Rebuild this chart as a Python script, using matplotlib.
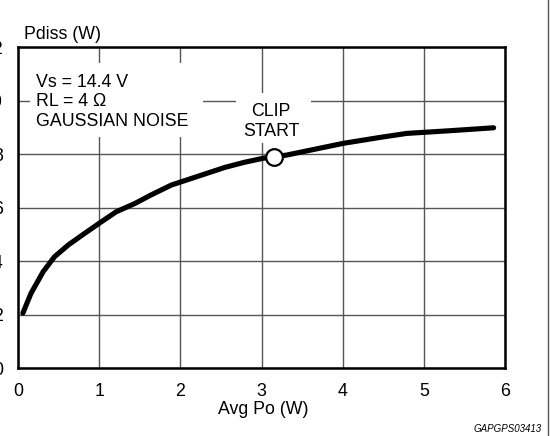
import matplotlib
matplotlib.use("Agg")
import matplotlib.pyplot as plt
from matplotlib.patches import Rectangle
from matplotlib.lines import Line2D

plt.rcParams['font.family'] = ['Liberation Sans', 'DejaVu Sans']

# Data
avg_po = [0.06, 0.16, 0.31, 0.45, 0.62, 0.82, 1.01, 1.21, 1.44, 1.64, 1.89, 2.01,
          2.26, 2.55, 2.79, 3.02, 3.31, 4.01, 4.46, 4.79, 5.32, 5.86]
pdiss = [2.05, 2.79, 3.6, 4.16, 4.6, 5.03, 5.43, 5.84, 6.15, 6.47, 6.84, 6.96,
         7.21, 7.5, 7.69, 7.84, 7.96, 8.4, 8.62, 8.77, 8.87, 8.98]
clip_x = [3.15]
clip_y = [7.87]
x_ticks = [0, 1, 2, 3, 4, 5, 6]
y_ticks = [0, 2, 4, 6, 8, 10, 12]

FS = 12.8
W, H = 550, 436
fig = plt.figure(figsize=(W / 100, H / 100), dpi=100)
L, R, T, B = 18, 505, 47, 368
ax = fig.add_axes([L / W, 1 - B / H, (R - L) / W, (B - T) / H])
ax.set_xlim(0, 6)
ax.set_ylim(0, 12)
ax.set_xticks(x_ticks)
ax.set_yticks(y_ticks)
ax.set_xticklabels([str(v) for v in x_ticks])
ax.set_yticklabels([str(v) for v in y_ticks])
ax.tick_params(axis='both', length=0, labelsize=FS)
ax.tick_params(axis='y', pad=10.8)
ax.tick_params(axis='x', pad=10.5)
ax.grid(True, color='#555555', linewidth=1.0, zorder=1)
for s in ax.spines.values():
    s.set_linewidth(1.8)
    s.set_color('black')
    s.set_zorder(5)

ax.plot(avg_po, pdiss, color='black', linewidth=3.7, solid_capstyle='round',
        solid_joinstyle='round', zorder=3)

# white boxes behind annotations
ax.add_patch(Rectangle((0.148, 8.64), 2.13, 2.76, facecolor='white', edgecolor='none', zorder=2))
ax.add_patch(Rectangle((2.69, 8.41), 0.92, 1.87, facecolor='white', edgecolor='none', zorder=2))

ax.plot(clip_x, clip_y, marker='o', markersize=12, markerfacecolor='white',
        markeredgecolor='black', markeredgewidth=1.6, linestyle='none', zorder=4)

ax.text(0.22, 10.5, 'Vs = 14.4 V', fontsize=FS, va='baseline', ha='left', zorder=4)
ax.text(0.22, 9.78, 'RL = 4 Ω', fontsize=FS, va='baseline', ha='left', zorder=4)
ax.text(0.22, 9.03, 'GAUSSIAN NOISE', fontsize=FS, va='baseline', ha='left', zorder=4)
ax.text(3.12, 9.42, 'CLIP', fontsize=FS, va='baseline', ha='center', zorder=4)
ax.text(3.12, 8.67, 'START', fontsize=FS, va='baseline', ha='center', zorder=4)

fig.text(24 / W, 1 - 39 / H, 'Pdiss (W)', fontsize=FS, va='baseline', ha='left')
fig.text(263 / W, 1 - 414 / H, 'Avg Po (W)', fontsize=FS, va='baseline', ha='center')
fig.text(542 / W, 1 - 432 / H, 'GAPGPS03413', fontsize=7.0, style='italic',
         va='baseline', ha='right')

fig.add_artist(Line2D([548 / W, 548 / W], [0, 1], color='#555555', linewidth=1.0,
                      transform=fig.transFigure))

fig.savefig('out.png', dpi=100, facecolor='white')
